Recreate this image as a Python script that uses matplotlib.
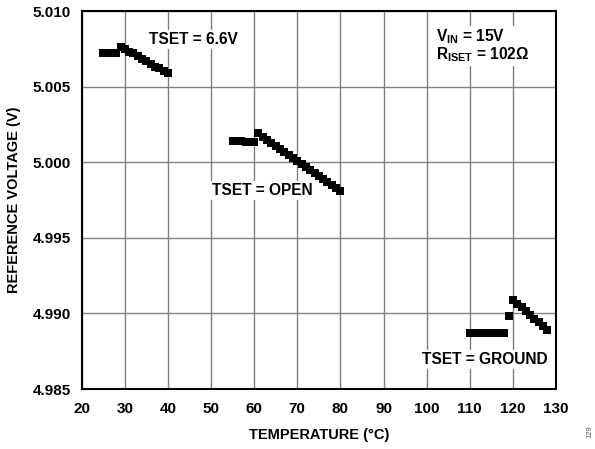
import numpy as np
import matplotlib
matplotlib.use('Agg')
import matplotlib.pyplot as plt

plt.rcParams['font.family'] = ['Liberation Sans', 'DejaVu Sans']
plt.rcParams['font.weight'] = 'bold'
plt.rcParams['mathtext.fontset'] = 'custom'
plt.rcParams['mathtext.rm'] = 'Liberation Sans:bold'
plt.rcParams['mathtext.it'] = 'Liberation Sans:bold'
plt.rcParams['mathtext.bf'] = 'Liberation Sans:bold'
plt.rcParams['mathtext.default'] = 'rm'

# reference voltage vs temperature for the three TSET settings
temp_66 = [25, 26, 27, 28, 29, 30, 31, 32, 33, 34, 35, 36, 37, 38, 39, 40]
vref_66 = [5.0072, 5.0072, 5.0072, 5.0072, 5.0076, 5.0075, 5.0073, 5.0072,
           5.0070, 5.0068, 5.0067, 5.0065, 5.0063, 5.0062, 5.0060, 5.0059]

temp_open = [55, 56, 57, 58, 59, 60, 61, 62, 63, 64, 65, 66, 67, 68, 69, 70,
             71, 72, 73, 74, 75, 76, 77, 78, 79, 80]
vref_open = [5.00142, 5.00140, 5.00138, 5.00136, 5.00134, 5.00132, 5.0019, 5.0017,
             5.0015, 5.0013, 5.0011, 5.0009, 5.0007, 5.0005, 5.0003, 5.0001,
             4.9999, 4.9997, 4.9995, 4.9993, 4.9991, 4.9989, 4.9987, 4.9985,
             4.9983, 4.9981]

temp_gnd = [110, 111, 112, 113, 114, 115, 116, 117, 118, 119, 120, 121, 122,
            123, 124, 125, 126, 127, 128]
vref_gnd = [4.98873, 4.98873, 4.98873, 4.98873, 4.98873, 4.98873, 4.98873,
            4.98873, 4.98873, 4.98980, 4.99090, 4.99065, 4.99040, 4.99015,
            4.98990, 4.98965, 4.98940, 4.98915, 4.98890]

xticks = [20, 30, 40, 50, 60, 70, 80, 90, 100, 110, 120, 130]
yticks = [4.985, 4.990, 4.995, 5.000, 5.005, 5.010]

fig = plt.figure(figsize=(5.95, 4.49), dpi=100)
ax = fig.add_axes([0.1373, 0.1336, 0.7972, 0.8419])

ax.set_xlim(20, 130)
ax.set_ylim(4.985, 5.010)
ax.set_xticks(xticks)
ax.set_yticks(yticks)
ax.set_yticklabels(['%.3f' % y for y in yticks])
ax.grid(True, color='#808080', linewidth=1.0)
ax.set_axisbelow(True)
ax.tick_params(length=0, labelsize=11)
ax.tick_params(axis='y', pad=8)
ax.tick_params(axis='x', pad=9)
for s in ax.spines.values():
    s.set_linewidth(1.5)

ax.set_xlabel('TEMPERATURE (°C)', fontsize=10.5, fontweight='bold', labelpad=9)
ax.set_ylabel('REFERENCE VOLTAGE (V)', fontsize=10.5, fontweight='bold', labelpad=8)

# labels sit on white boxes that break the grid, markers go on top
box = dict(facecolor='white', edgecolor='none', pad=1.5)
ax.text(35.5, 5.0081, 'TSET = 6.6V', fontsize=11.2, fontweight='bold', bbox=box, va='center', zorder=2)
ax.text(50.3, 4.99816, 'TSET = OPEN', fontsize=11.2, fontweight='bold', bbox=box, va='center', zorder=2)
ax.text(113.4, 4.98695, 'TSET = GROUND', fontsize=11.2, fontweight='bold', bbox=box, va='center',
        ha='center', zorder=2)
ax.text(102.2, 5.00768, r'V$_{IN}$ = 15V' + '\n' + r'R$_{ISET}$ = 102Ω', fontsize=11.2,
        fontweight='bold', bbox=box, va='center', linespacing=0.95, zorder=2)

for t, v in [(temp_66, vref_66), (temp_open, vref_open), (temp_gnd, vref_gnd)]:
    ax.plot(t, v, 's', color='black', markersize=5.9, markeredgewidth=0, zorder=3)

fig.text(0.992, 0.038, '129', rotation=90, fontsize=5.5, fontweight='normal',
         color='#555555', ha='center', va='center')

fig.savefig('out.png', dpi=100)
